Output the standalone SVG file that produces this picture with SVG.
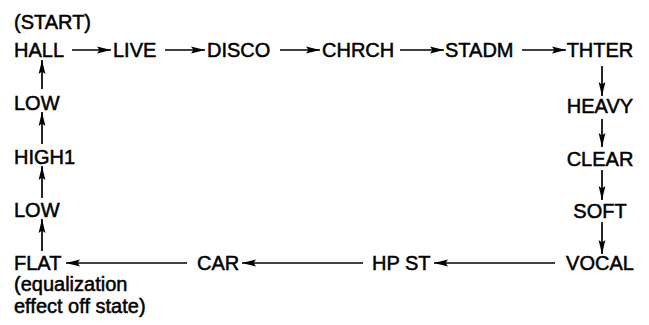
<svg xmlns="http://www.w3.org/2000/svg" width="649" height="325" viewBox="0 0 649 325">
<style>
  text { font-family: "Liberation Sans", Arial, sans-serif; font-size: 20px; fill: #000; stroke: #000; stroke-width: 0.5; }
  .c { text-anchor: middle; }
  .ln { stroke: #000; stroke-width: 1.7; fill: none; marker-end: url(#ah); }
</style>
<defs>
  <marker id="ah" viewBox="0 0 14 8" refX="14" refY="4" markerWidth="14" markerHeight="8" markerUnits="userSpaceOnUse" orient="auto">
    <path d="M0,0.6 L14,4 L0,7.4 L2.5,4 Z" fill="#000"/>
  </marker>
</defs>
<rect width="649" height="325" fill="#fff"/>
<g id="start-label"><text x="14" y="29">(START)</text></g>
<g id="hall"><text x="14" y="57">HALL</text></g>
<g id="live"><text x="113" y="57">LIVE</text></g>
<g id="disco"><text x="207" y="57">DISCO</text></g>
<g id="chrch"><text x="322" y="57">CHRCH</text></g>
<g id="stadm"><text x="445" y="57">STADM</text></g>
<g id="thter"><text class="c" x="600" y="57">THTER</text></g>
<g id="heavy"><text class="c" x="600" y="113">HEAVY</text></g>
<g id="clear"><text class="c" x="600" y="166">CLEAR</text></g>
<g id="soft"><text class="c" x="600" y="218">SOFT</text></g>
<g id="vocal"><text class="c" x="600" y="270">VOCAL</text></g>
<g id="hpst"><text x="372" y="270">HP ST</text></g>
<g id="car"><text x="197" y="270">CAR</text></g>
<g id="flat"><text x="14" y="270">FLAT</text>
  <text x="14" y="291">(equalization</text>
  <text x="14" y="313">effect off state)</text></g>
<g id="low2"><text x="14" y="217">LOW</text></g>
<g id="high1"><text x="14" y="164">HIGH1</text></g>
<g id="low1"><text x="14" y="110">LOW</text></g>
<g id="connectors">
  <line class="ln" x1="72" y1="50" x2="111" y2="50"/>
  <line class="ln" x1="165" y1="50" x2="205" y2="50"/>
  <line class="ln" x1="280" y1="50" x2="320" y2="50"/>
  <line class="ln" x1="400" y1="50" x2="444" y2="50"/>
  <line class="ln" x1="522" y1="50" x2="566" y2="50"/>
  <line class="ln" x1="602" y1="66" x2="602" y2="96"/>
  <line class="ln" x1="602" y1="119" x2="602" y2="147"/>
  <line class="ln" x1="602" y1="170" x2="602" y2="200"/>
  <line class="ln" x1="602" y1="222" x2="602" y2="254"/>
  <line class="ln" x1="555" y1="263" x2="434" y2="263"/>
  <line class="ln" x1="363" y1="263" x2="242" y2="263"/>
  <line class="ln" x1="187" y1="263" x2="66" y2="263"/>
  <line class="ln" x1="42" y1="251" x2="42" y2="219"/>
  <line class="ln" x1="42" y1="198" x2="42" y2="166"/>
  <line class="ln" x1="42" y1="144" x2="42" y2="112"/>
  <line class="ln" x1="42" y1="89" x2="42" y2="60"/>
</g>
</svg>
